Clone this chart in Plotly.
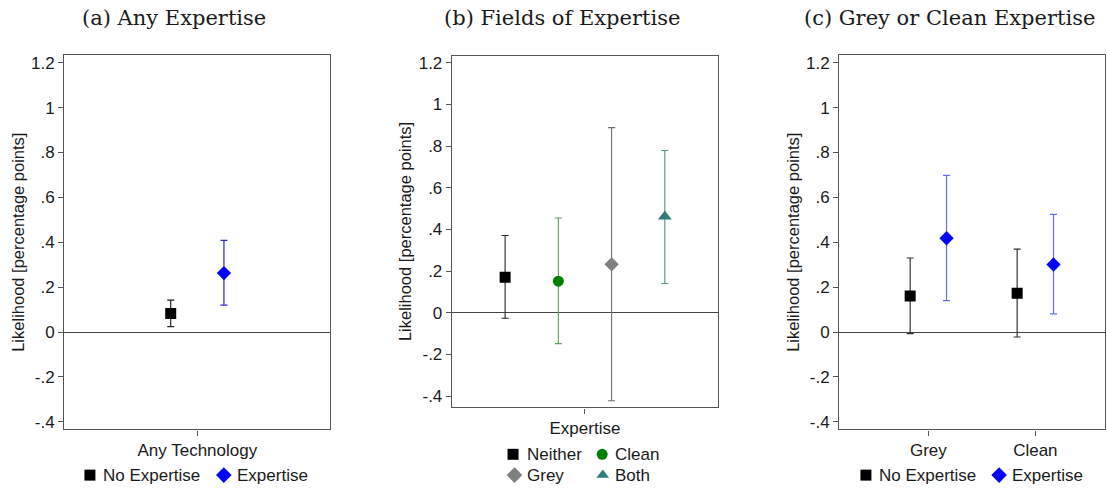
import plotly.graph_objects as go

W, H = 1107, 492

# ---------------- data ----------------
# (a) Any Expertise
a_cats = ["Any Technology"]
a_noexp = [0.083]; a_noexp_hi = [0.142]; a_noexp_lo = [0.024]
a_exp = [0.263];   a_exp_hi = [0.409];   a_exp_lo = [0.120]

# (b) Fields of Expertise
b_groups = ["Neither", "Clean", "Grey", "Both"]
b_val = [0.171, 0.152, 0.233, 0.462]
b_hi = [0.371, 0.455, 0.889, 0.779]
b_lo = [-0.026, -0.148, -0.422, 0.141]

# (c) Grey or Clean Expertise
c_cats = ["Grey", "Clean"]
c_noexp = [0.161, 0.173]; c_noexp_hi = [0.330, 0.370]; c_noexp_lo = [-0.007, -0.022]
c_exp = [0.418, 0.301];   c_exp_hi = [0.698, 0.524];   c_exp_lo = [0.140, 0.081]

y_ticks = [-0.4, -0.2, 0, 0.2, 0.4, 0.6, 0.8, 1.0, 1.2]
y_labels = ["-.4", "-.2", "0", ".2", ".4", ".6", ".8", "1", "1.2"]

# ---------------- style ----------------
SANS = "Liberation Sans, Arial, sans-serif"
SERIF = "DejaVu Serif, Liberation Serif, serif"
TXT = "#1a1a1a"
AX = "#555555"
FS = 17

def px_x(x):
    return x / W

def px_y(y):
    return 1 - y / H

fig = go.Figure()

def err(vals, hi, lo, color, thick=1.2):
    return dict(type="data", symmetric=False,
                array=[h - v for h, v in zip(hi, vals)],
                arrayminus=[v - l for v, l in zip(vals, lo)],
                color=color, thickness=thick, width=3.5)

# ---- panel (a) ----
fig.add_trace(go.Scatter(x=[0.5 - 0.1 + i for i in range(len(a_cats))], y=a_noexp,
                         mode="markers", xaxis="x", yaxis="y", showlegend=False,
                         marker=dict(symbol="square", size=11, color="black"),
                         error_y=err(a_noexp, a_noexp_hi, a_noexp_lo, "#222222")))
fig.add_trace(go.Scatter(x=[0.5 + 0.1 + i for i in range(len(a_cats))], y=a_exp,
                         mode="markers", xaxis="x", yaxis="y", showlegend=False,
                         marker=dict(symbol="diamond", size=11, color="#0000ff"),
                         error_y=err(a_exp, a_exp_hi, a_exp_lo, "#2a2acc")))

# ---- panel (b) ----
b_sym = ["square", "circle", "diamond", "triangle-up"]
b_col = ["black", "#008000", "#808080", "#2f7b78"]
b_bar = ["#222222", "#5a9e5a", "#6e6e6e", "#4f8f8c"]
b_size = [11, 11, 11, 12]
for i, g in enumerate(b_groups):
    fig.add_trace(go.Scatter(x=[0.2 + 0.2 * i], y=[b_val[i]], mode="markers",
                             xaxis="x2", yaxis="y2", showlegend=False,
                             marker=dict(symbol=b_sym[i], size=b_size[i], color=b_col[i]),
                             error_y=err([b_val[i]], [b_hi[i]], [b_lo[i]], b_bar[i], 1.1)))

# ---- panel (c) ----
cx = list(range(1, len(c_cats) + 1))
fig.add_trace(go.Scatter(x=[v - 0.17 for v in cx], y=c_noexp, mode="markers",
                         xaxis="x3", yaxis="y3", showlegend=False,
                         marker=dict(symbol="square", size=11, color="black"),
                         error_y=err(c_noexp, c_noexp_hi, c_noexp_lo, "#333333")))
fig.add_trace(go.Scatter(x=[v + 0.17 for v in cx], y=c_exp, mode="markers",
                         xaxis="x3", yaxis="y3", showlegend=False,
                         marker=dict(symbol="diamond", size=11, color="#0000ff"),
                         error_y=err(c_exp, c_exp_hi, c_exp_lo, "#6b6bff")))

# ---- custom legends on a pixel-space overlay axis ----
# (label, symbol, color, symbol-center x, y, text start x)
legend_items = [
    ("No Expertise", "square", "black", 90, 477, 101),
    ("Expertise", "diamond", "#0000ff", 224, 477, 235),
    ("Neither", "square", "black", 513.5, 456, 525),
    ("Clean", "circle", "#008000", 602.7, 456, 614),
    ("Grey", "diamond", "#808080", 515, 477, 525),
    ("Both", "triangle-up", "#2f7b78", 603.3, 477, 614),
    ("No Expertise", "square", "black", 866.7, 477, 878),
    ("Expertise", "diamond", "#0000ff", 1000, 477, 1011),
]
for lab, sym, col, sx, sy, tx in legend_items:
    fig.add_trace(go.Scatter(x=[sx], y=[sy], mode="markers", xaxis="x4", yaxis="y4",
                             showlegend=False, hoverinfo="skip", cliponaxis=False,
                             marker=dict(symbol=sym, size=12 if sym == "diamond" else 11,
                                         color=col)))
    fig.add_annotation(text=lab, x=tx, y=sy, xref="x4", yref="y4", showarrow=False,
                       xanchor="left", yanchor="middle",
                       font=dict(family=SANS, size=FS, color=TXT))

# ---------------- axes ----------------
def yaxis(dom_top, dom_bot, rng, anchor):
    return dict(domain=[px_y(dom_bot), px_y(dom_top)], range=rng, anchor=anchor,
                tickvals=y_ticks, ticktext=y_labels, ticks="outside", ticklen=5,
                tickcolor=AX, showline=True, linecolor=AX, linewidth=1.3, mirror=True,
                showgrid=False, zeroline=True, zerolinecolor="#444444", zerolinewidth=1.3,
                tickfont=dict(family=SANS, size=FS, color=TXT),
                title=dict(text="Likelihood [percentage points]", standoff=2,
                           font=dict(family=SANS, size=16.5, color=TXT)))

def xaxis(left, right, rng, tv, tt, anchor):
    return dict(domain=[px_x(left), px_x(right)], range=rng, anchor=anchor,
                tickvals=tv, ticktext=tt, ticks="outside", ticklen=5, tickcolor=AX,
                showline=True, linecolor=AX, linewidth=1.3, mirror=True,
                showgrid=False, zeroline=False,
                tickfont=dict(family=SANS, size=FS, color=TXT))

fig.update_layout(
    width=W, height=H, margin=dict(l=0, r=0, t=0, b=0),
    paper_bgcolor="white", plot_bgcolor="rgba(0,0,0,0)",
    showlegend=False,
    xaxis=xaxis(64.3, 330.7, [0, 1], [0.5], a_cats, "y"),
    yaxis=yaxis(53.3, 431, [-0.434, 1.235], "x"),
    xaxis2=xaxis(452.3, 718.7, [0, 1], [0.5], ["Expertise"], "y2"),
    yaxis2=yaxis(54, 408.7, [-0.454, 1.235], "x2"),
    xaxis3=xaxis(840, 1106.3, [0.167, 2.654], cx, c_cats, "y3"),
    yaxis3=yaxis(53.3, 431, [-0.434, 1.235], "x3"),
    xaxis4=dict(domain=[0, 1], range=[0, W], visible=False, fixedrange=True, anchor="y4"),
    yaxis4=dict(domain=[0, 1], range=[H, 0], visible=False, fixedrange=True, anchor="x4"),
)

titles = [("(a) Any Expertise", 174), ("(b) Fields of Expertise", 562.5),
          ("(c) Grey or Clean Expertise", 950)]
for t, xc in titles:
    fig.add_annotation(text=t, x=px_x(xc), y=px_y(16), xref="paper", yref="paper",
                       showarrow=False, xanchor="center", yanchor="middle",
                       font=dict(family=SERIF, size=21, color=TXT))

fig.write_html("out.html")
